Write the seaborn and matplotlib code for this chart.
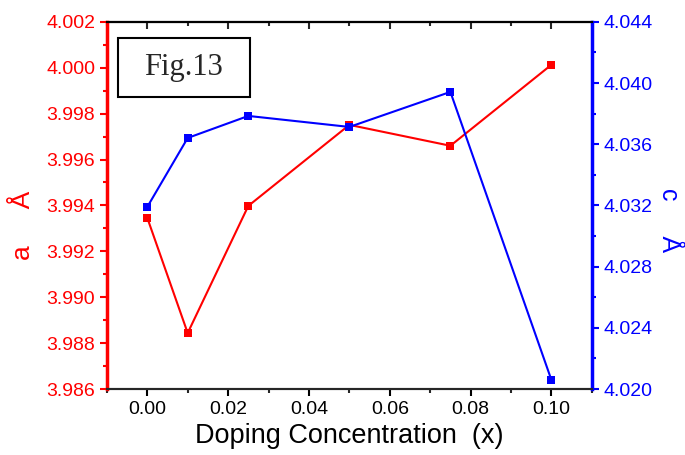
import pandas as pd
import matplotlib.pyplot as plt
import seaborn as sns
from matplotlib.ticker import MultipleLocator
from matplotlib.patches import Rectangle

# data
doping = [0.0, 0.01, 0.025, 0.05, 0.075, 0.10]
a_lat = [3.99346, 3.98844, 3.99398, 3.99751, 3.99660, 4.00013]
c_lat = [4.03190, 4.03641, 4.03785, 4.03713, 4.03942, 4.02059]

df = pd.DataFrame({'x': doping, 'a': a_lat, 'c': c_lat})

sns.set_style('ticks')
plt.rcParams['font.family'] = ['Liberation Sans', 'DejaVu Sans']

fig = plt.figure(figsize=(6.85, 4.55), dpi=100)
ax = fig.add_axes([0.156, 0.145, 0.708, 0.807])
ax2 = ax.twinx()

sns.lineplot(data=df, x='x', y='a', ax=ax, color='red', marker='s',
             markersize=6, markeredgewidth=0, linewidth=1.5)
sns.lineplot(data=df, x='x', y='c', ax=ax2, color='blue', marker='s',
             markersize=6, markeredgewidth=0, linewidth=1.5)

ax.set_xlim(-0.01, 0.11)
ax.set_ylim(3.986, 4.002)
ax2.set_ylim(4.020, 4.044)

ax.xaxis.set_major_locator(MultipleLocator(0.02))
ax.xaxis.set_minor_locator(MultipleLocator(0.01))
ax.yaxis.set_major_locator(MultipleLocator(0.002))
ax.yaxis.set_minor_locator(MultipleLocator(0.001))
ax2.yaxis.set_major_locator(MultipleLocator(0.004))
ax2.yaxis.set_minor_locator(MultipleLocator(0.002))
ax.xaxis.set_major_formatter(plt.FormatStrFormatter('%.2f'))
ax.yaxis.set_major_formatter(plt.FormatStrFormatter('%.3f'))
ax2.yaxis.set_major_formatter(plt.FormatStrFormatter('%.3f'))

# spines
for a_ in (ax, ax2):
    a_.spines['top'].set_color('black')
    a_.spines['top'].set_linewidth(1.5)
    a_.spines['bottom'].set_linewidth(1.5)
ax.spines['left'].set_color('red')
ax.spines['left'].set_linewidth(2.5)
ax2.spines['right'].set_color('blue')
ax2.spines['right'].set_linewidth(2.5)
ax2.spines['left'].set_visible(False)
ax.spines['right'].set_visible(False)

ax.tick_params(axis='x', which='major', direction='out', length=5, width=1.5,
               labelsize=14, colors='black', top=False)
ax.tick_params(axis='x', which='minor', direction='out', length=3, width=1.5,
               top=False)
ax.tick_params(axis='y', which='major', direction='out', length=5, width=1.5,
               labelsize=14, colors='red')
ax.tick_params(axis='y', which='minor', direction='out', length=3, width=1.5,
               colors='red')
ax2.tick_params(axis='y', which='major', direction='out', length=5, width=1.5,
                labelsize=14, colors='blue')
ax2.tick_params(axis='y', which='minor', direction='out', length=3, width=1.5,
                colors='blue')

# top ticks point inward
sec = ax.secondary_xaxis('top')
sec.xaxis.set_major_locator(MultipleLocator(0.02))
sec.xaxis.set_minor_locator(MultipleLocator(0.01))
sec.tick_params(which='major', direction='in', length=5, width=1.5, labeltop=False)
sec.tick_params(which='minor', direction='in', length=3, width=1.5)
sec.spines['top'].set_linewidth(1.5)

ax.set_xlabel('Doping Concentration  (x)', fontsize=19.5, color='black', labelpad=4)
ax.set_ylabel('a     Å', fontsize=19, color='red', labelpad=8)
ax.yaxis.label.set_y(0.447)
ax2.set_ylabel('c     Å', fontsize=18, color='blue', rotation=270, labelpad=20)
ax2.yaxis.label.set_y(0.46)

# Fig.13 box
fig.add_artist(Rectangle((0.1723, 0.7868), 0.1927, 0.1297, transform=fig.transFigure,
                         facecolor='white', edgecolor='black', linewidth=1.5, zorder=5))
fig.text(0.2686, 0.8516, 'Fig.13', fontsize=22, family=['Liberation Serif'],
         ha='center', va='center', zorder=6)

fig.savefig('out.png', dpi=100)
